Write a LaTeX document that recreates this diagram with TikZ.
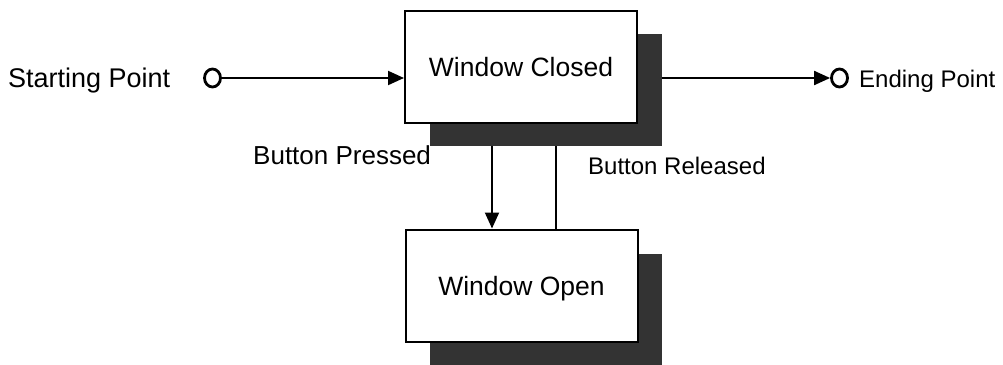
\documentclass[tikz,border=0pt]{standalone}
\usepackage{fontspec}
\setmainfont{Liberation Sans}
\usetikzlibrary{arrows.meta,shapes.geometric}
\begin{document}
\begin{tikzpicture}[x=1pt,y=-1pt,
  statebox/.style={draw=black,line width=2pt,fill=white,minimum width=232pt,
    minimum height=112pt,inner sep=0pt,text height=19pt,text depth=0pt,
    font=\fontsize{26.5}{30}\selectfont},
  shadowbox/.style={fill=black!80,draw=none,minimum width=232pt,
    minimum height=112pt,inner sep=0pt},
  lbl/.style={inner sep=0pt,anchor=base west,font=\fontsize{#1}{30}\selectfont},
  term/.style={draw=black,line width=2.8pt,ellipse,minimum width=16pt,
    minimum height=18pt,inner sep=0pt},
  flow/.style={line width=2pt,-{Triangle[length=16pt,width=14pt]}},
  plain/.style={line width=2pt}]
\clip (0,0) rectangle (1003,364);
\fill[white] (0,0) rectangle (1003,364);

% drop shadows behind the two states
\node[shadowbox] (wcs) at (545.5,90) {};
\node[shadowbox] (wos) at (546,309.5) {};

% states
\node[statebox] (wc) at (521,66.5) {Window Closed};
\node[statebox] (wo) at (521.5,285.5) {Window Open};

% start and end terminals
\node[term] (so) at (212.5,78) {};
\node[term] (eo) at (839.5,78) {};

% labels
\node[lbl=27] (sp) at (8,87) {Starting Point};
\node[lbl=24] (ep) at (859,87) {Ending Point};
\node[lbl=26] (bp) at (253,164) {Button Pressed};
\node[lbl=24] (br) at (588,174) {Button Released};

% transitions
\coordinate (px) at (492,0);
\coordinate (rx) at (556,0);
\draw[flow] (so.east) -- (so.east -| wc.west);
\draw[flow] (wcs.east |- eo.west) -- (eo.west);
\draw[flow] (wcs.south -| px) -- (wo.north -| px);
\draw[plain] (wo.north -| rx) -- (wcs.south -| rx);
\end{tikzpicture}
\end{document}
